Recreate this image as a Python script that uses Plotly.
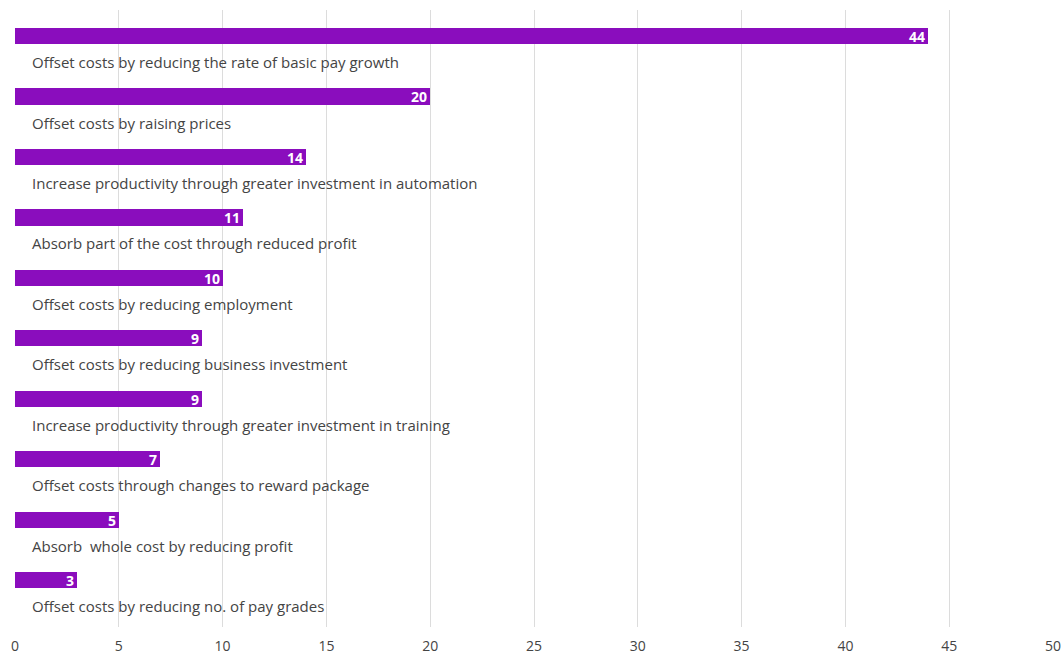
import plotly.graph_objects as go

categories = [
    "Offset costs by reducing the rate of basic pay growth",
    "Offset costs by raising prices",
    "Increase productivity through greater investment in automation",
    "Absorb part of the cost through reduced profit",
    "Offset costs by reducing employment",
    "Offset costs by reducing business investment",
    "Increase productivity through greater investment in training",
    "Offset costs through changes to reward package",
    "Absorb\u00a0 whole cost by reducing profit",
    "Offset costs by reducing no. of pay grades",
]
values = [44, 20, 14, 11, 10, 9, 9, 7, 5, 3]
x_ticks = [0, 5, 10, 15, 20, 25, 30, 35, 40, 45, 50]

BAR_COLOR = "#8a0dbd"
positions = list(range(len(categories)))

fig = go.Figure()
fig.add_trace(go.Bar(
    x=values,
    y=positions,
    orientation="h",
    width=0.265,
    marker=dict(color=BAR_COLOR, line=dict(width=0)),
    text=[str(v) for v in values],
    textposition="inside",
    insidetextanchor="end",
    textangle=0,
    constraintext="none",
    textfont=dict(family="Open Sans", size=14, color="white", weight="bold"),
    cliponaxis=False,
    hoverinfo="skip",
))

# Category names sit just below each bar
for pos, name in zip(positions, categories):
    fig.add_annotation(
        x=0, y=pos + 0.43, xref="x", yref="y",
        text=name, showarrow=False,
        xanchor="left", yanchor="middle", xshift=15,
        font=dict(family="Open Sans", size=15, color="#444444"),
    )

fig.update_layout(
    width=1062, height=655,
    margin=dict(l=15, r=9, t=10, b=28),
    paper_bgcolor="white", plot_bgcolor="white",
    showlegend=False,
    bargap=0,
)
fig.update_xaxes(
    range=[0, 50], tickvals=x_ticks, ticktext=[str(t) for t in x_ticks],
    showgrid=True, gridcolor="#dcdcdc", gridwidth=1,
    zeroline=False, showline=False,
    ticks="outside", ticklen=6, tickcolor="rgba(0,0,0,0)",
    tickfont=dict(family="Open Sans", size=14, color="#444444"),
    automargin=False, fixedrange=True,
)
fig.update_yaxes(
    range=[9.77, -0.43], showgrid=False, zeroline=False,
    showticklabels=False, showline=False, automargin=False, fixedrange=True,
)

fig.write_html("out.html", config={"displayModeBar": False})
